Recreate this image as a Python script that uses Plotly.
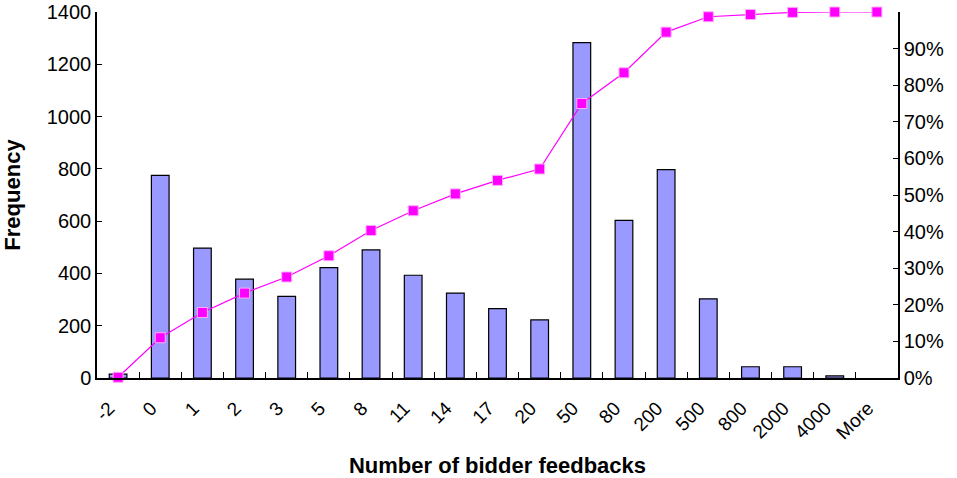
import plotly.graph_objects as go

categories = ["-2", "0", "1", "2", "3", "5", "8", "11", "14", "17", "20",
              "50", "80", "200", "500", "800", "2000", "4000", "More"]
frequency = [15, 775, 497, 378, 312, 422, 490, 393, 325, 265, 222,
             1283, 603, 797, 303, 43, 43, 8, 0]
cumulative = [0.002, 0.110, 0.179, 0.232, 0.276, 0.334, 0.403, 0.457, 0.503, 0.540, 0.571,
              0.750, 0.834, 0.945, 0.987, 0.993, 0.999, 1.000, 1.000]

font_family = "Liberation Sans, Arial, sans-serif"

bar_line_widths = [1.2 if v > 0 else 0 for v in frequency]

fig = go.Figure()
fig.add_trace(go.Bar(
    x=categories, y=frequency, name="Frequency",
    marker=dict(color="#9999FF", line=dict(color="black", width=bar_line_widths)),
))
fig.add_trace(go.Scatter(
    x=categories, y=cumulative, name="Cumulative %", yaxis="y2",
    mode="lines+markers",
    line=dict(color="#FF00FF", width=1.2),
    marker=dict(symbol="square", size=10, color="#FF00FF",
                line=dict(color="#FFAAFF", width=1)),
    cliponaxis=False,
))

fig.update_layout(
    width=957, height=478,
    margin=dict(l=97, r=59, t=12, b=100),
    paper_bgcolor="white", plot_bgcolor="white",
    showlegend=False,
    bargap=0.58,
    font=dict(family=font_family, size=20, color="black"),
    xaxis=dict(
        type="category",
        range=[-0.5, len(categories) - 0.5],
        automargin=False,
        tickangle=-45,
        ticks="inside", ticklen=6, tickcolor="black",
        tickson="boundaries",
        ticklabelstandoff=10,
        ticklabelshift=-9,
        showline=True, linecolor="black", linewidth=1.5,
        showgrid=False,
        title=dict(text="<b>Number of bidder feedbacks</b>", font=dict(size=22), standoff=18),
        tickfont=dict(size=19),
    ),
    yaxis=dict(
        automargin=False,
        range=[0, 1400], dtick=200,
        ticks="inside", ticklen=5, tickcolor="black",
        showline=True, linecolor="black", linewidth=1.5,
        showgrid=False, zeroline=False,
        ticklabeloverflow="allow",
        title=dict(text="<b>Frequency</b>", font=dict(size=22), standoff=20),
        tickfont=dict(size=20),
    ),
    yaxis2=dict(
        automargin=False,
        overlaying="y", side="right",
        range=[0, 1.0],
        tickvals=[0, 0.1, 0.2, 0.3, 0.4, 0.5, 0.6, 0.7, 0.8, 0.9, 1.0],
        ticktext=["0%", "10%", "20%", "30%", "40%", "50%", "60%", "70%", "80%", "90%", ""],
        ticks="inside", ticklen=5, tickcolor="black",
        showline=True, linecolor="black", linewidth=1.5,
        showgrid=False, zeroline=False,
        tickfont=dict(size=20),
    ),
)

fig.write_html("out.html",
               config={"displayModeBar": False},
               post_script="document.body.style.margin='0';document.body.style.padding='0';")
